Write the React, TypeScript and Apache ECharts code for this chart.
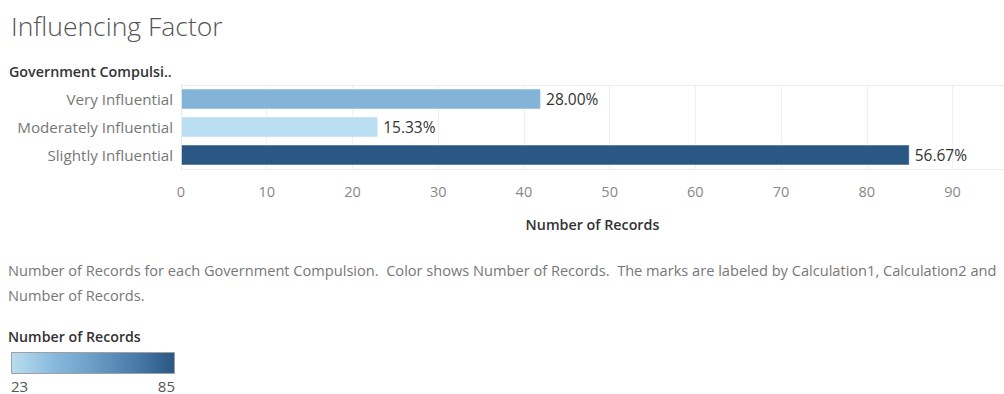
import React, { useEffect, useRef } from "react";
import * as echarts from "echarts";

const categories = ["Very Influential", "Moderately Influential", "Slightly Influential"];
const records = [42, 23, 85];
const xTicks = [0, 10, 20, 30, 40, 50, 60, 70, 80, 90];
const colorStops = ["#b9ddf1", "#8abbdd", "#6b9dc7", "#4b7cab", "#2a5783"];
const legendMin = 23;
const legendMax = 85;

const FONT = "'Open Sans', sans-serif";

export default function App() {
  const ref = useRef<HTMLDivElement>(null);
  useEffect(() => {
    document.body.style.margin = "0";
    const chart = echarts.init(ref.current!, null, { renderer: "svg" });
    const total = records.reduce((a, b) => a + b, 0);
    const n = colorStops.length;
    chart.setOption({
      animation: false,
      backgroundColor: "#ffffff",
      textStyle: { fontFamily: FONT },
      title: {
        text: "Influencing Factor",
        left: 6,
        top: 7,
        textStyle: { fontFamily: FONT, fontSize: 26.5, fontWeight: 300, color: "#555555" },
      },
      visualMap: {
        type: "continuous",
        show: false,
        min: legendMin,
        max: legendMax,
        dimension: 0,
        seriesIndex: 0,
        inRange: { color: colorStops },
      },
      grid: { left: 181, top: 85, width: 826, height: 84, containLabel: false },
      xAxis: [
        {
          type: "value",
          min: 0,
          max: 96,
          interval: 10,
          position: "bottom",
          name: "Number of Records",
          nameLocation: "middle",
          nameGap: 48,
          nameTextStyle: { fontFamily: FONT, fontSize: 14.3, fontWeight: 600, color: "#333333" },
          axisLine: { show: true, lineStyle: { color: "#ececec" } },
          axisTick: { show: false },
          axisLabel: {
            showMaxLabel: false,
            margin: 15,
            fontFamily: FONT,
            fontSize: 14.5,
            color: "#888888",
            formatter: (v: number) => (xTicks.includes(v) ? String(v) : ""),
          },
          splitLine: { show: true, lineStyle: { color: "#f0f0f0" } },
        },
        {
          type: "value",
          min: 0,
          max: 96,
          position: "top",
          axisLine: { show: true, lineStyle: { color: "#ececec" } },
          axisTick: { show: false },
          axisLabel: { show: false },
          splitLine: { show: false },
        },
      ],
      yAxis: {
        type: "category",
        data: categories,
        inverse: true,
        axisLine: { show: true, lineStyle: { color: "#e6e6e6" } },
        axisTick: { show: false },
        axisLabel: { margin: 8, fontFamily: FONT, fontSize: 15.2, color: "#777777" },
        splitLine: { show: false },
      },
      series: [
        {
          type: "bar",
          data: records,
          barWidth: 21,
          itemStyle: { borderColor: "rgba(255,255,255,0.5)", borderWidth: 1 },
          label: {
            show: true,
            position: "right",
            distance: 5,
            fontFamily: FONT,
            fontSize: 15.5,
            color: "#333333",
            formatter: (p: any) => ((p.value / total) * 100).toFixed(2) + "%",
          },
        },
      ],
      graphic: [
        {
          type: "text",
          left: 9,
          top: 64,
          style: { text: "Government Compulsi..", font: `600 14.3px ${FONT}`, fill: "#333333" },
        },
        {
          type: "text",
          left: 8,
          top: 257,
          style: {
            text:
              "Number of Records for each Government Compulsion.  Color shows Number of Records.  The marks are labeled by Calculation1, Calculation2 and\nNumber of Records.",
            font: `14.6px ${FONT}`,
            lineHeight: 25,
            fill: "#777777",
          },
        },
        {
          type: "text",
          left: 8,
          top: 329,
          style: { text: "Number of Records", font: `600 14.2px ${FONT}`, fill: "#333333" },
        },
        {
          type: "rect",
          shape: { x: 11.5, y: 352.5, width: 163, height: 21 },
          style: {
            stroke: "#a0a0a0",
            lineWidth: 1,
            fill: new echarts.graphic.LinearGradient(
              0,
              0,
              1,
              0,
              colorStops.map((c, i) => ({ offset: i / (n - 1), color: c }))
            ),
          },
        },
        {
          type: "text",
          left: 11,
          top: 378,
          style: { text: String(legendMin), font: `15px ${FONT}`, fill: "#555555" },
        },
        {
          type: "text",
          right: 1004 - 175,
          top: 378,
          style: { text: String(legendMax), font: `15px ${FONT}`, fill: "#555555", align: "right" },
        },
      ],
    });
    return () => chart.dispose();
  }, []);
  return <div ref={ref} style={{ width: 1004, height: 394 }} />;
}
